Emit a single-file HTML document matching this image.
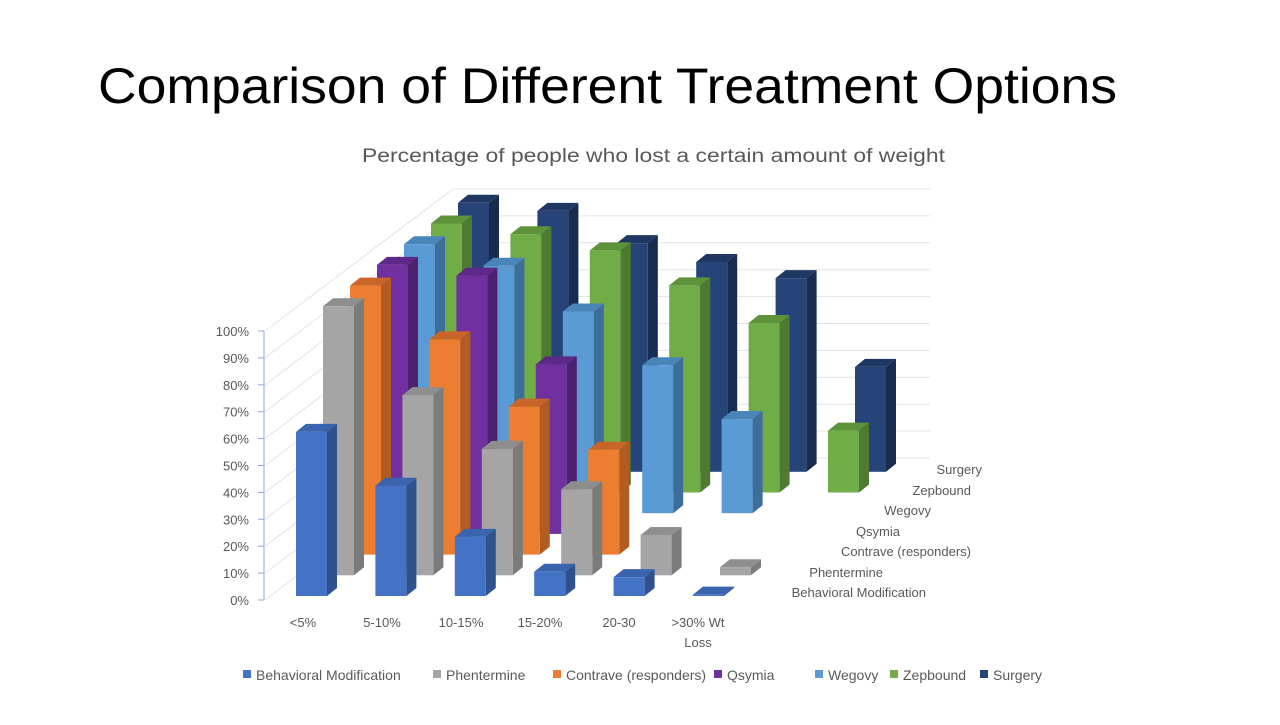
<!DOCTYPE html>
<html><head><meta charset="utf-8"><style>
body{margin:0;width:1280px;height:720px;background:#fff;overflow:hidden;font-family:"Liberation Sans",sans-serif;}
svg text{font-family:"Liberation Sans",sans-serif;}
</style></head><body>
<svg width="1280" height="720">
<text x="98" y="103" font-size="50" fill="#000" textLength="1019" lengthAdjust="spacingAndGlyphs">Comparison of Different Treatment Options</text>
<text x="362" y="162" font-size="19" fill="#595959" textLength="583" lengthAdjust="spacingAndGlyphs">Percentage of people who lost a certain amount of weight</text>
<g id="walls"></g><g id="bars"></g><g id="labels"></g>
</svg>
<script>
const categories=["<5%","5-10%","10-15%","15-20%","20-30",">30% Wt|Loss"];
const seriesNames=["Behavioral Modification","Phentermine","Contrave (responders)","Qsymia","Wegovy","Zepbound","Surgery"];
const behavioral=[61,41,22,9,7,0.5];
const phentermine=[100,67,47,32,15,3];
const contrave=[100,80,55,39,0,0];
const qsymia=[100,96,63,0,0,0];
const wegovy=[100,92,75,55,35,0];
const zepbound=[100,96,90,77,63,23];
const surgery=[100,97,85,78,72,39];
const yTicks=["0%","10%","20%","30%","40%","50%","60%","70%","80%","90%","100%"];
const series=[behavioral,phentermine,contrave,qsymia,wegovy,zepbound,surgery];
const colors=[["#4472C4","#2F528F","#3A64AE"],["#A5A5A5","#7B7B7B","#8E8E8E"],["#ED7D31","#B05C22","#C9652A"],["#7030A0","#4E2170","#5E2888"],["#5B9BD5","#3D6D99","#4A85BA"],["#70AD47","#4E7A31","#5E933C"],["#264478","#182C4E","#1F3863"]];
const NS="http://www.w3.org/2000/svg";
function el(t,a,p){const e=document.createElementNS(NS,t);for(const k in a)e.setAttribute(k,a[k]);p.appendChild(e);return e;}
const walls=document.getElementById('walls'),bars=document.getElementById('bars'),labels=document.getElementById('labels');
function yFront(v){return 600-v*2.69;}
function xBar(c,r){return 296+79.4*c+27*r;}
function yBase(r){return 596-20.7*r;}
yTicks.forEach((t,i)=>{const v=i*10;const y=yFront(v);
 const l=el('line',{x1:265,y1:y,x2:453,y2:y-142,stroke:"#E3E3E3","stroke-width":1},walls);
 
 
 const b=el('line',{x1:453,y1:y-142,x2:930,y2:y-142,stroke:"#E3E3E3","stroke-width":1},walls);
 
 
 const tk=el('line',{x1:258,y1:y,x2:264,y2:y,stroke:"#8FAADC"},walls);
 
 
 const tx=el('text',{x:249,y:y+5,"font-size":13,fill:"#595959","text-anchor":"end"},labels);tx.textContent=t;
 
 
});
const ax=el('line',{x1:264,y1:yFront(0),x2:264,y2:yFront(100),stroke:"#8FAADC"},walls);


const W=31,D=10,DY=8;
for(let r=6;r>=0;r--){for(let c=0;c<categories.length;c++){const v=series[r][c];if(!v)continue;
 const x=xBar(c,r),yb=yBase(r),h=v*2.69,yt=yb-h;const col=colors[r];
 const g=el('g',{},bars);
 
 
 el('polygon',{points:`${x+W},${yb} ${x+W+D},${yb-DY} ${x+W+D},${yt-DY} ${x+W},${yt}`,fill:col[1]},g);
 el('polygon',{points:`${x},${yt} ${x+D},${yt-DY} ${x+W+D},${yt-DY} ${x+W},${yt}`,fill:col[2]},g);
 el('rect',{x:x,y:yt,width:W,height:h,fill:col[0]},g);
}}
categories.forEach((c,i)=>{const parts=c.split('|');const cx=303+79*i;
 parts.forEach((p,j)=>{const t=el('text',{x:cx,y:627+j*20,"font-size":13,fill:"#595959","text-anchor":"middle"},labels);t.textContent=p;
 
 });});
const dl=[[926,597],[883,577],[971,556],[900,536],[931,515],[971,495],[982,474]];
seriesNames.forEach((n,i)=>{const t=el('text',{x:dl[i][0],y:dl[i][1],"font-size":13,fill:"#595959","text-anchor":"end"},labels);t.textContent=n;
 
 });
const lx=[243,433,553,714,815,890,980];
seriesNames.forEach((n,i)=>{const g=el('g',{},labels);
 
 
 el('rect',{x:lx[i],y:670,width:8,height:8,fill:colors[i][0]},g);
 const t=el('text',{x:lx[i]+13,y:680,"font-size":14,fill:"#595959"},g);t.textContent=n;});
</script>
</body></html>
